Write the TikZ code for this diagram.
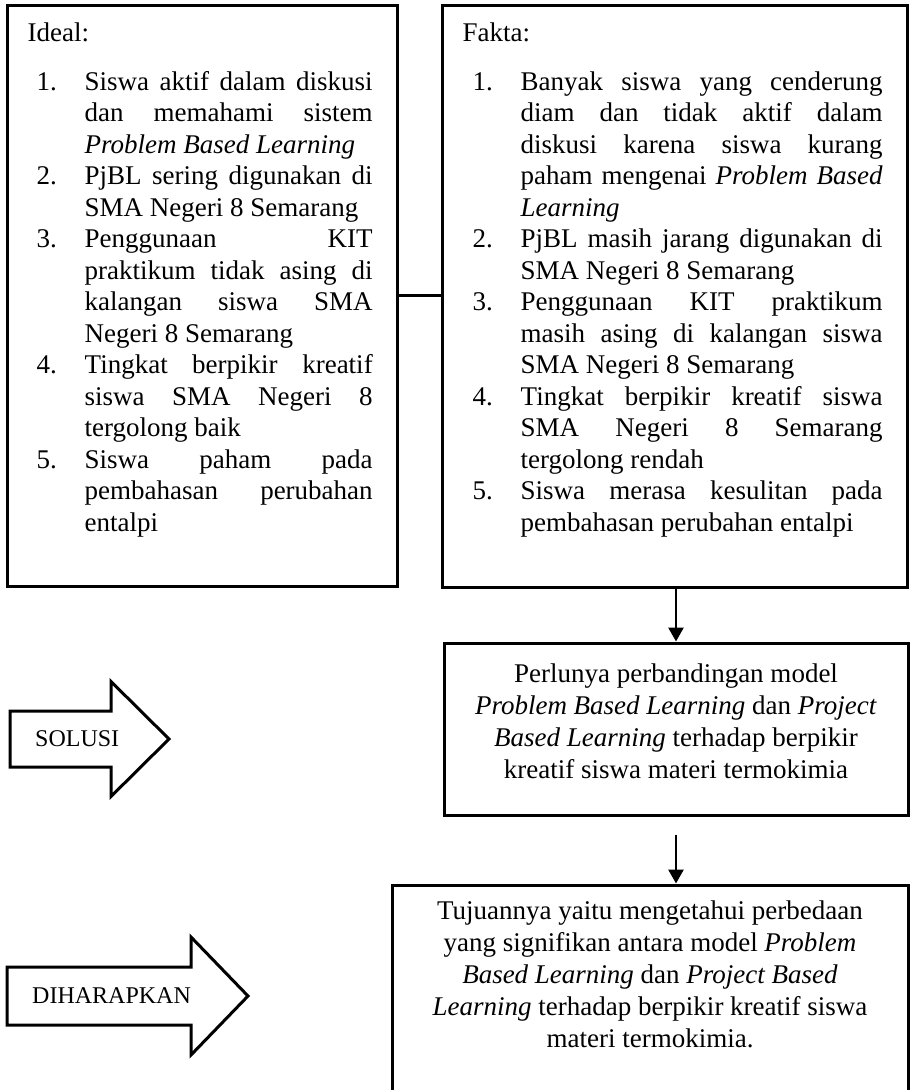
\documentclass[tikz,border=0pt]{standalone}
\usepackage{fontspec}
\setmainfont{Liberation Serif}
\usetikzlibrary{arrows.meta}
\hyphenpenalty=10000
\exhyphenpenalty=10000
\tolerance=10000
\hbadness=10000
\newcommand{\butir}[2]{\par\noindent\hangindent=48pt\hangafter=1\makebox[48pt][l]{#1}#2\par}

\begin{document}
\begin{tikzpicture}[x=1pt,y=-1pt,
	kotak/.style={draw,line width=3pt,inner sep=0pt},
	isi/.style={inner sep=0pt,align=justify,font=\fontsize{27}{31.5}\selectfont},
	tengah/.style={inner sep=0pt,align=center,font=\fontsize{27}{32}\selectfont},
	panah/.style={draw,line width=3pt,line join=miter},
	tulisan/.style={inner sep=0pt,font=\fontsize{24}{28}\selectfont},
	garis/.style={line width=2.8pt},
	alur/.style={line width=2.8pt,-{Triangle[width=15pt,length=14pt]}}]
\useasboundingbox (0,0) rectangle (910,1090);
\clip (0,0) rectangle (910,1090);

\node[kotak,minimum width=390pt,minimum height=581pt] (ideal) at (202,295.5) {};
\node[kotak,minimum width=465pt,minimum height=582pt] (fakta) at (674.5,296) {};
\node[kotak,minimum width=464pt,minimum height=172pt] (perlu) at (676,729) {};
\node[kotak,minimum width=516pt,minimum height=240pt] (tujuan) at (650,1005) {};

\node[isi,text width=336pt,anchor=north west] (idealisi) at ([xshift=31pt,yshift=-19pt]ideal.north west) {
	\noindent\hspace*{-9pt}Ideal:\par\vspace{17.5pt}
	\butir{1.}{Siswa aktif dalam diskusi\linebreak dan memahami sistem\linebreak \textit{Problem Based Learning}}
	\butir{2.}{PjBL sering digunakan di\linebreak SMA Negeri 8 Semarang}
	\butir{3.}{Penggunaan KIT\linebreak praktikum tidak asing di\linebreak kalangan siswa SMA\linebreak Negeri 8 Semarang}
	\butir{4.}{Tingkat berpikir kreatif\linebreak siswa SMA Negeri 8\linebreak tergolong baik}
	\butir{5.}{Siswa paham pada\linebreak pembahasan perubahan\linebreak entalpi}
};
\node[isi,text width=410pt,anchor=north west] (faktaisi) at ([xshift=32pt,yshift=-19pt]fakta.north west) {
	\noindent\hspace*{-10pt}Fakta:\par\vspace{17.5pt}
	\butir{1.}{Banyak siswa yang cenderung\linebreak diam dan tidak aktif dalam\linebreak diskusi karena siswa kurang\linebreak paham mengenai \textit{Problem Based}\linebreak \textit{Learning}}
	\butir{2.}{PjBL masih jarang digunakan di\linebreak SMA Negeri 8 Semarang}
	\butir{3.}{Penggunaan KIT praktikum\linebreak masih asing di kalangan siswa\linebreak SMA Negeri 8 Semarang}
	\butir{4.}{Tingkat berpikir kreatif siswa\linebreak SMA Negeri 8 Semarang\linebreak tergolong rendah}
	\butir{5.}{Siswa merasa kesulitan pada\linebreak pembahasan perubahan entalpi}
};
\node[tengah] (perluisi) at ([yshift=8pt]perlu.center) {Perlunya perbandingan model\\ \textit{Problem Based Learning} dan \textit{Project}\\ \textit{Based Learning} terhadap berpikir\\ kreatif siswa materi termokimia};
\node[tengah] (tujuanisi) at ([yshift=31pt]tujuan.center) {Tujuannya yaitu mengetahui perbedaan\\ yang signifikan antara model \textit{Problem}\\ \textit{Based Learning} dan \textit{Project Based}\\ \textit{Learning} terhadap berpikir kreatif siswa\\ materi termokimia.};

\draw[garis] (ideal.east) -- (ideal.east -| fakta.west);
\draw[alur] (perlu.north |- fakta.south) -- (perlu.north);
\draw[alur] ([yshift=-18pt]perlu.south) -- (perlu.south |- tujuan.north);

\foreach \xa/\xb/\xc/\yc/\hs/\hh/\teks/\nama in {10/111/169/739/28/57.5/SOLUSI/solusi,7/191/248/996/29/59/DIHARAPKAN/harap}{
	\draw[panah] (\xa,\yc-\hs) -- (\xb,\yc-\hs) -- (\xb,\yc-\hh) -- (\xc,\yc) -- (\xb,\yc+\hh) -- (\xb,\yc+\hs) -- (\xa,\yc+\hs) -- cycle;
	\node[tulisan,anchor=west] (\nama) at (\xa+25,\yc) {\teks};
}
\end{tikzpicture}
\end{document}
